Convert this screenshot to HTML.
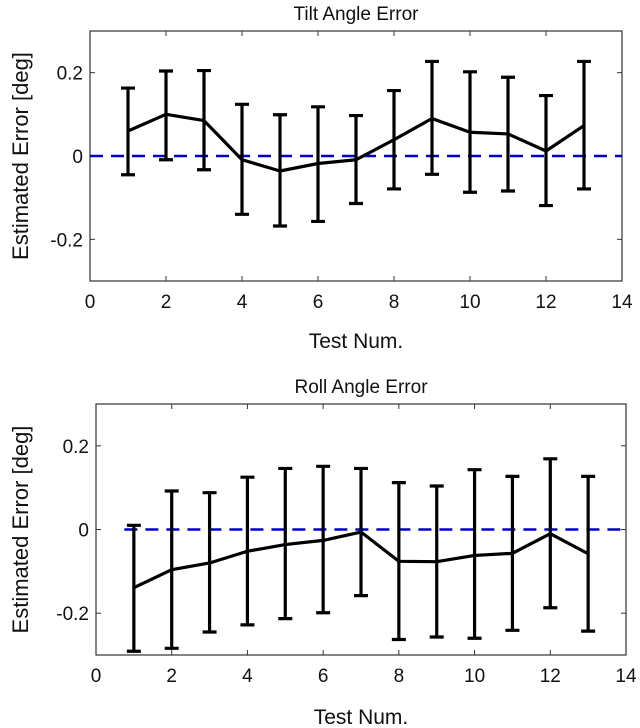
<!DOCTYPE html>
<html><head><meta charset="utf-8"><style>
html,body{margin:0;padding:0;background:#fff;width:640px;height:728px;overflow:hidden}
svg{display:block;font-family:"Liberation Sans",Arial,sans-serif}
</style></head><body>
<svg id="fig" width="640" height="728" viewBox="0 0 640 728" xmlns="http://www.w3.org/2000/svg"></svg>
<script>
const testNums = [1,2,3,4,5,6,7,8,9,10,11,12,13];
const tiltMean = [0.060,0.100,0.085,-0.009,-0.036,-0.018,-0.009,0.039,0.090,0.057,0.053,0.012,0.073];
const tiltUpper = [0.163,0.204,0.205,0.124,0.099,0.118,0.097,0.157,0.227,0.202,0.189,0.145,0.227];
const tiltLower = [-0.045,-0.009,-0.033,-0.140,-0.168,-0.157,-0.114,-0.079,-0.044,-0.087,-0.084,-0.119,-0.079];
const rollMean = [-0.139,-0.096,-0.080,-0.052,-0.036,-0.026,-0.006,-0.076,-0.077,-0.062,-0.057,-0.010,-0.058];
const rollUpper = [0.010,0.092,0.088,0.125,0.146,0.151,0.146,0.112,0.104,0.143,0.127,0.169,0.127];
const rollLower = [-0.291,-0.284,-0.245,-0.228,-0.213,-0.199,-0.158,-0.263,-0.257,-0.260,-0.241,-0.187,-0.243];
const xTicks = [0,2,4,6,8,10,12,14];
const yTicks = [-0.2,0,0.2];
const yTickLabels = ["-0.2","0","0.2"];

const NS="http://www.w3.org/2000/svg";
const svg=document.getElementById('fig');
function mk(tag,attrs,parent){const e=document.createElementNS(NS,tag);for(const k in attrs)e.setAttribute(k,attrs[k]);(parent||svg).appendChild(e);return e;}

function panel(key,box,title,mean,upper,lower,dashStart,xlabY){
  const g=mk('g',{});
  
  
  const sx=v=>box.l+(v-0)/14*(box.r-box.l);
  const sy=v=>box.b-(v+0.3)/0.6*(box.b-box.t);
  const fr=mk('rect',{x:box.l,y:box.t,width:box.r-box.l,height:box.b-box.t,fill:'#fff',stroke:'#333','stroke-width':1.2},g);
  
  
  xTicks.forEach(t=>{
    const x=sx(t);
    mk('line',{x1:x,y1:box.b,x2:x,y2:box.b-5,stroke:'#333'},g);
    mk('line',{x1:x,y1:box.t,x2:x,y2:box.t+5,stroke:'#333'},g);
    const tx=mk('text',{x:x,y:box.b+27,'text-anchor':'middle','font-size':19,fill:'#111'},g);
    tx.textContent=t;
    
    
  });
  yTicks.forEach((t,i)=>{
    const y=sy(t);
    mk('line',{x1:box.l,y1:y,x2:box.l+5,y2:y,stroke:'#333'},g);
    mk('line',{x1:box.r,y1:y,x2:box.r-5,y2:y,stroke:'#333'},g);
    const tx=mk('text',{x:box.l-7,y:y+7,'text-anchor':'end','font-size':19,fill:'#111'},g);
    tx.textContent=yTickLabels[i];
    
    
  });
  const zl=mk('line',{x1:sx(dashStart),y1:sy(0),x2:box.r,y2:sy(0),stroke:'#0000cc','stroke-width':2.6,'stroke-dasharray':'13,8'},g);
  
  
  testNums.forEach((n,i)=>{
    const x=sx(n);
    const eb=mk('path',{d:`M${x},${sy(upper[i])}V${sy(lower[i])}M${x-7},${sy(upper[i])}H${x+7}M${x-7},${sy(lower[i])}H${x+7}`,stroke:'#000','stroke-width':3.2,fill:'none'},g);
    
    
  });
  const ml=mk('polyline',{points:testNums.map((n,i)=>sx(n)+','+sy(mean[i])).join(' '),stroke:'#000','stroke-width':3.2,fill:'none','stroke-linejoin':'round'},g);
  
  
  const tt=mk('text',{x:(box.l+box.r)/2,y:box.t-11,'text-anchor':'middle','font-size':19,fill:'#111'},g);
  tt.textContent=title;
  
  
  const yl=mk('text',{x:0,y:0,'text-anchor':'middle','font-size':22,fill:'#111',transform:`translate(28,${(box.t+box.b)/2}) rotate(-90)`},g);
  yl.textContent='Estimated Error [deg]';
  
  
  const xl=mk('text',{x:(box.l+box.r)/2,y:xlabY,'text-anchor':'middle','font-size':21,fill:'#111'},g);
  xl.textContent='Test Num.';
  
  
}
panel('tilt',{l:90,r:622,t:31,b:281},'Tilt Angle Error',tiltMean,tiltUpper,tiltLower,0,348);
panel('roll',{l:96,r:626,t:404,b:655},'Roll Angle Error',rollMean,rollUpper,rollLower,0.75,724);
</script>
</body></html>
